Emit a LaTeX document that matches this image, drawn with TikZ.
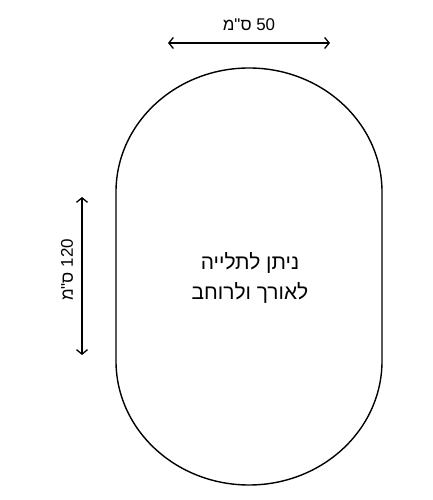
\documentclass[tikz,border=0pt]{standalone}
\usepackage{fontspec}
\setmainfont{Liberation Sans}
\newfontfamily\hebfont[Script=Hebrew]{Liberation Sans}
\TeXXeTstate=1
\usetikzlibrary{arrows.meta}

\begin{document}
\begin{tikzpicture}[x=1bp, y=1bp,
    dimline/.style={line width=1.3bp, {Straight Barb[length=4.5bp,width=11bp]}-{Straight Barb[length=4.5bp,width=11bp]}},
    dimlabel/.style={font=\hebfont\fontsize{17}{19}\selectfont, inner sep=0pt},
    outline/.style={line width=1.4bp}]
            \useasboundingbox (0,0) rectangle (432,500);

            % Oval outline
            \draw[outline] (116,139) -- (116,308) arc[start angle=180, end angle=0, x radius=133, y radius=124]
                -- (382,139) arc[start angle=0, end angle=-180, x radius=133, y radius=124] -- cycle;
            \node[font=\hebfont\fontsize{21}{30}\selectfont, align=center] (note) at (250,222)
                {\beginR ניתן לתלייה\endR\\ \beginR לאורך ולרוחב\endR};

            % Width
            \coordinate (wl) at (168,457);
            \coordinate (wr) at (330,457);
            \draw[dimline] (wl) -- (wr);
            \node[dimlabel] (width) at (249,475) {\beginR 50 ס"מ\endR};

            % Height
            \coordinate (ht) at (82,303);
            \coordinate (hb) at (82,145);
            \draw[dimline] (ht) -- (hb);
            \node[dimlabel, rotate=90] (height) at (67,230) {\beginR 120 ס"מ\endR};
        \end{tikzpicture}
\end{document}
